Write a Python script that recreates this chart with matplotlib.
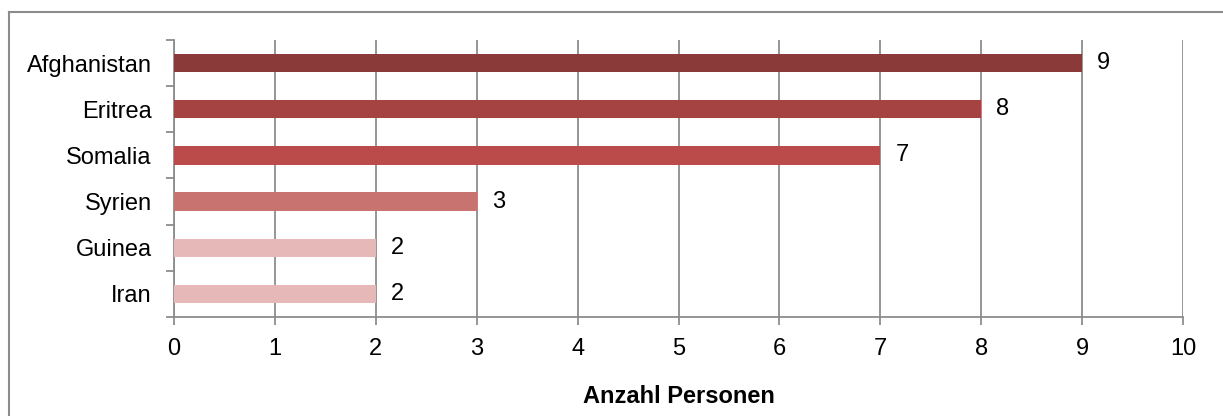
import matplotlib
matplotlib.use("Agg")
import matplotlib.pyplot as plt
from matplotlib.lines import Line2D

plt.rcParams['font.family'] = ['Liberation Sans', 'DejaVu Sans']

# Herkunftsländer und Anzahl Personen
countries = ['Afghanistan', 'Eritrea', 'Somalia', 'Syrien', 'Guinea', 'Iran']
persons = [9, 8, 7, 3, 2, 2]
colors = ['#8B3A3A', '#A54343', '#BB4A4A', '#C97371', '#E6B8B7', '#E6B8B7']

fs = 17
W, H = 1223, 416
fig = plt.figure(figsize=(W / 100, H / 100), dpi=100)
ax = fig.add_axes([174 / W, 1 - 317 / H, (1183 - 174) / W, (317 - 40) / H])

pos = list(range(len(countries)))[::-1]
ax.barh(pos, persons, height=0.4, color=colors, zorder=3)
for p, v in zip(pos, persons):
    ax.text(v + 0.15, p, str(v), va='center', ha='left', fontsize=fs)

ax.set_xlim(0, 10)
ax.set_ylim(-0.5, len(countries) - 0.5)
ax.set_xticks(range(0, 11))
ax.set_yticks(pos)
ax.set_yticklabels(countries)
ax.set_yticks([i - 0.5 for i in range(len(countries) + 1)], minor=True)

grey = '#8C8C8C'
ax.grid(axis='x', color=grey, linewidth=1.3, zorder=1)
for s in ['top', 'right']:
    ax.spines[s].set_visible(False)
for s in ['left', 'bottom']:
    ax.spines[s].set_color(grey)
    ax.spines[s].set_linewidth(1.3)
ax.tick_params(axis='y', which='major', length=0, pad=16, labelsize=fs)
ax.tick_params(axis='y', which='minor', length=6, color=grey, width=1.3)
ax.tick_params(axis='x', length=6, color=grey, width=1.3, pad=9, labelsize=fs)

ax.set_xlabel('Anzahl Personen', fontsize=fs, fontweight='bold', labelpad=18)

# Rahmen um das Diagramm (oben und links)
fig.add_artist(Line2D([9 / W, 9 / W], [0, 1 - 12 / H], color=grey, linewidth=1.5))
fig.add_artist(Line2D([9 / W, 1], [1 - 12 / H, 1 - 12 / H], color=grey, linewidth=1.5))

fig.savefig('out.png', dpi=100)
